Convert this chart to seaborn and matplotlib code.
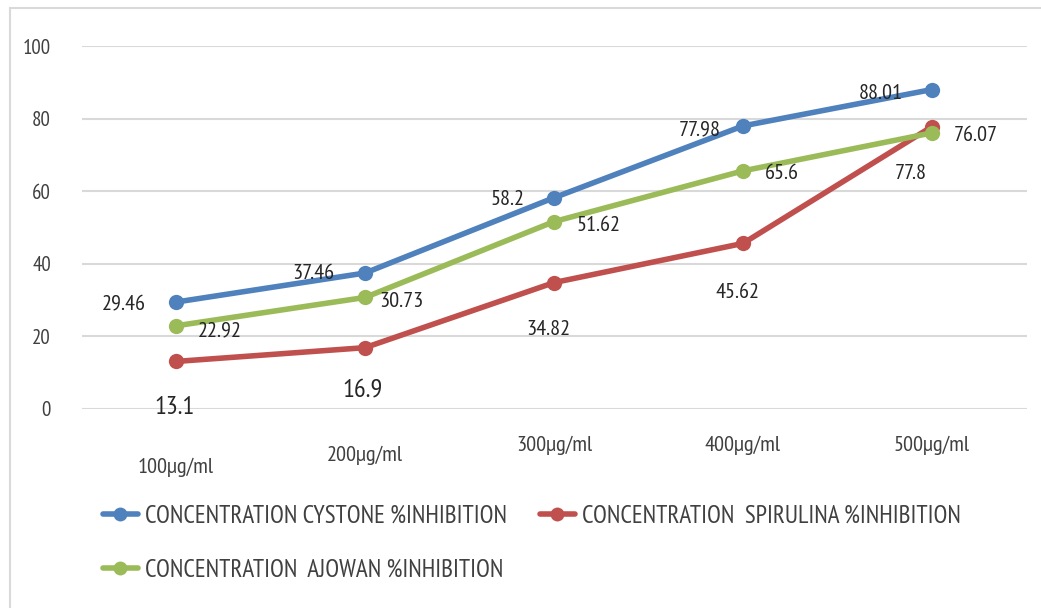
import matplotlib
matplotlib.use("Agg")
import matplotlib.pyplot as plt
import matplotlib.patches as mpatches
from matplotlib.transforms import blended_transform_factory
from matplotlib.lines import Line2D
import seaborn as sns
import pandas as pd

# Data
concentrations = ["100μg/ml", "200μg/ml", "300μg/ml", "400μg/ml", "500μg/ml"]
cystone = [29.46, 37.46, 58.2, 77.98, 88.01]
spirulina = [13.1, 16.9, 34.82, 45.62, 77.8]
ajowan = [22.92, 30.73, 51.62, 65.6, 76.07]
series_names = [
    "CONCENTRATION CYSTONE %INHIBITION",
    "CONCENTRATION  SPIRULINA %INHIBITION",
    "CONCENTRATION  AJOWAN %INHIBITION",
]
y_ticks = [0, 20, 40, 60, 80, 100]

colors = ["#4F81BD", "#C0504D", "#9BBB59"]

sns.set_theme(style="white")
plt.rcParams["font.family"] = ["PT Sans Narrow", "DejaVu Sans"]

rows = []
for name, vals in zip(series_names, [cystone, spirulina, ajowan]):
    for c, v in zip(concentrations, vals):
        rows.append({"conc": c, "value": v, "series": name})
df = pd.DataFrame(rows)

W, H = 1041, 608
fig = plt.figure(figsize=(W / 100, H / 100), dpi=100)
ax = fig.add_axes([81.5 / W, 1 - 409 / H, (1026.5 - 81.5) / W, (409 - 46) / H])

sns.lineplot(data=df, x="conc", y="value", hue="series", hue_order=series_names,
             palette=colors, marker="o", markersize=11, markeredgewidth=0,
             linewidth=4, ax=ax, legend=False, sort=False, clip_on=False)

ax.set_xlim(-0.5, 4.5)
ax.set_ylim(0, 100)
ax.set_yticks(y_ticks)
ax.set_yticklabels([str(t) for t in y_ticks], fontsize=15, color="#404040")
ax.tick_params(axis="y", length=0, pad=22)
ax.grid(axis="y", color="#D9D9D9", linewidth=1.5)
ax.grid(axis="x", visible=False)
for s in ax.spines.values():
    s.set_visible(False)
ax.set_xlabel("")
ax.set_ylabel("")

# Category labels below the plot
ax.set_xticks(range(len(concentrations)))
ax.set_xticklabels([])
ax.tick_params(axis="x", length=0)
label_y_px = [467, 455, 445, 445, 445]
xt = blended_transform_factory(ax.transData, fig.transFigure)
for i, (c, ypx) in enumerate(zip(concentrations, label_y_px)):
    ax.text(i, 1 - ypx / H, c, transform=xt, ha="center", va="center",
            fontsize=16, color="#404040")

# Data labels
def put(x, y, txt, dx, dy, ha, size=16):
    ax.annotate(txt, (x, y), xytext=(dx, dy), textcoords="offset points",
                ha=ha, va="center", fontsize=size, color="#262626",
                annotation_clip=False)

blue_off = [(-22, -2, "right"), (-22, 0, "right"), (-21, -1, "right"),
            (-16, -3, "right"), (-21, -3, "right")]
green_off = [(16, -4, "left"), (10, -3, "left"), (16, -3, "left"),
             (16, -2, "left"), (16, -2, "left")]
red_off = [(-1, -33, "center"), (-2, -31.5, "center"), (-4, -34, "center"),
           (-4, -35, "center"), (-15, -34, "center")]
for i in range(5):
    dx, dy, ha = blue_off[i]
    put(i, cystone[i], f"{cystone[i]:g}", dx, dy, ha)
    dx, dy, ha = green_off[i]
    put(i, ajowan[i], f"{ajowan[i]:g}", dx, dy, ha)
    dx, dy, ha = red_off[i]
    put(i, spirulina[i], f"{spirulina[i]:g}", dx, dy, ha,
        size=19 if i < 2 else 16)

# Legend
handles = [Line2D([0], [0], color=c, linewidth=4, marker="o", markersize=10,
                  markeredgewidth=0) for c in colors]
leg_kw = dict(loc="center left", frameon=False, fontsize=18, handlelength=1.4,
              handletextpad=0.3, labelcolor="#404040")
fig.legend(handles[:2], series_names[:2], bbox_to_anchor=(80 / W, 1 - 516 / H),
           ncol=2, columnspacing=1.3, **leg_kw)
fig.legend(handles[2:], series_names[2:], bbox_to_anchor=(80 / W, 1 - 570 / H),
           ncol=1, **leg_kw)

# Chart frame
fig.add_artist(mpatches.Rectangle((10 / W, -0.1), 1.1, 1.1 - 8 / H,
                                  transform=fig.transFigure, fill=False,
                                  edgecolor="#D9D9D9", linewidth=1.5))

fig.savefig("out.png", dpi=100)
